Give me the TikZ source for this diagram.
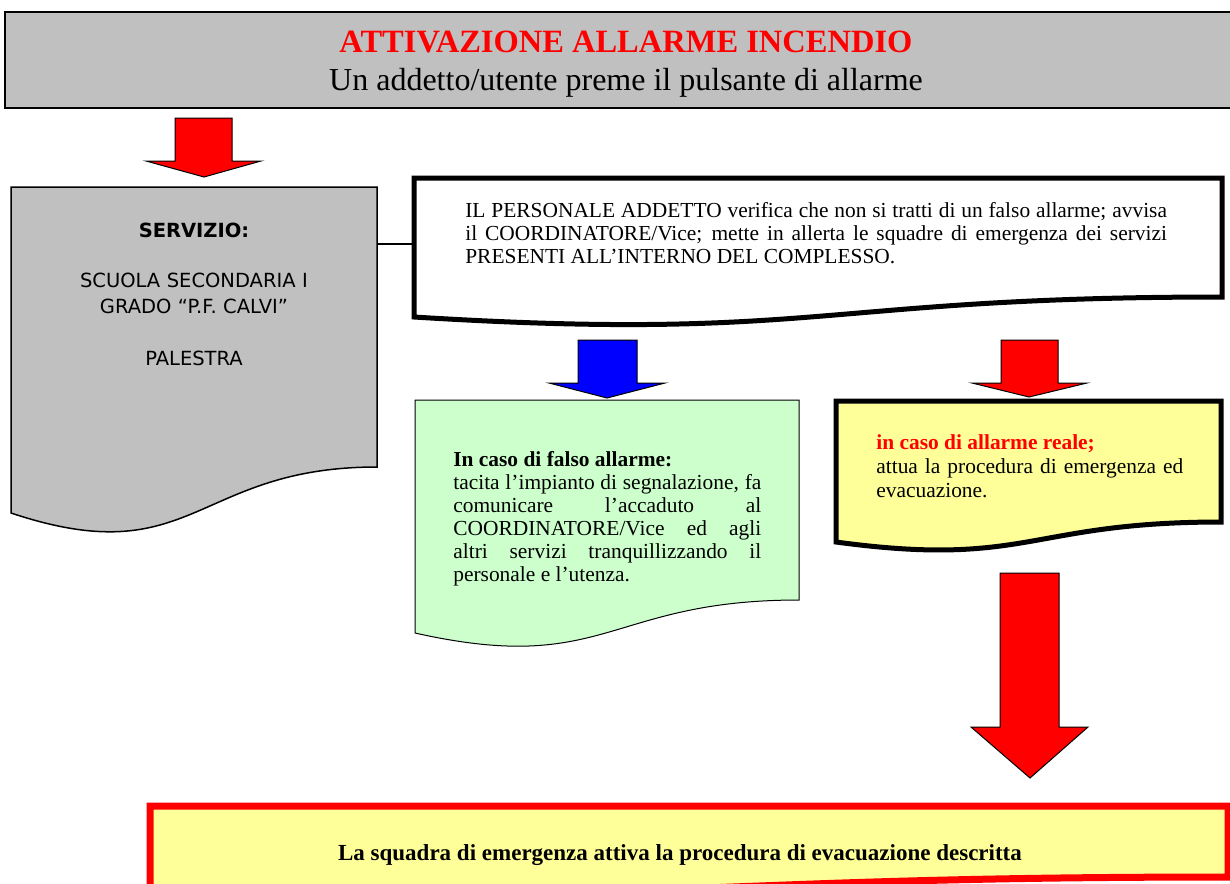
\documentclass[tikz,border=0pt]{standalone}
\usepackage{fontspec}
\setmainfont{Liberation Serif}
\newfontfamily\servfont{DejaVu Sans}
\usepackage{xcolor}
\definecolor{boxgray}{RGB}{192,192,192}
\definecolor{falsogreen}{RGB}{204,255,204}
\definecolor{realeyellow}{RGB}{255,255,153}

\tikzset{
  arrowred/.style={fill=red, draw=black, line width=0.6pt},
  arrowblue/.style={fill=blue, draw=black, line width=0.6pt},
  bodytext/.style={inner sep=0pt, anchor=base west, align=justify, font=\fontsize{12.85}{13.8}\selectfont},
}

\begin{document}
\begin{tikzpicture}[x=0.6pt, y=-0.6pt]
\useasboundingbox (0,0) rectangle (1230,883);
\clip (0,0) rectangle (1230,883);

% banner
\draw[fill=boxgray, line width=1.2pt] (5,12) rectangle (1240,108);
\node[anchor=base, text=red, font=\fontsize{19.5}{21}\selectfont\bfseries] (title) at (626,52) {ATTIVAZIONE ALLARME INCENDIO};
\node[anchor=base, font=\fontsize{19.2}{21}\selectfont] (subtitle) at (626,90) {Un addetto/utente preme il pulsante di allarme};

\draw[arrowred] (175,118) -- (232,118) -- (232,161) -- (261,161) -- (204,177) -- (146,161) -- (175,161) -- cycle;

% servizio
\draw[fill=boxgray, line width=0.9pt] (11,187) -- (377,187) -- (377,467) .. controls (194,467) and (194,574) .. (11,513) -- cycle;
\node[inner sep=0pt, anchor=base, text width=219pt, align=center, font=\servfont\fontsize{11.7}{15.6}\selectfont] (servizio) at (194,237)
  {\textbf{SERVIZIO:}\\[14.4pt] SCUOLA SECONDARIA I\\ GRADO “P.F. CALVI”\\[15.6pt] PALESTRA};

% personale addetto
\draw[fill=white, line width=3pt] (414,178) -- (1222,178) -- (1222,297) .. controls (818,297) and (818,342) .. (414,317) -- cycle;
\node[bodytext, text width=421pt] (personale) at (465,217)
  {IL PERSONALE ADDETTO verifica che non si tratti di un falso allarme; avvisa\linebreak il COORDINATORE/Vice; mette in allerta le squadre di emergenza dei servizi\linebreak PRESENTI ALL’INTERNO DEL COMPLESSO.};
\coordinate (servR) at (377,244);
\coordinate (persL) at (414,244);
\draw[line width=0.9pt] (servR) -- (persL);

\draw[arrowblue] (578,340) -- (637,340) -- (637,383) -- (665,383) -- (607,398) -- (549,383) -- (578,383) -- cycle;
\draw[arrowred] (1001,340) -- (1058,340) -- (1058,383) -- (1087,383) -- (1029,397) -- (972,383) -- (1001,383) -- cycle;

% falso allarme
\draw[fill=falsogreen, line width=0.6pt] (415,400) -- (799,400) -- (799,600) .. controls (607,600) and (607,676) .. (415,633) -- cycle;
\node[bodytext, text width=184.8pt] (falso) at (453,466)
  {\textbf{In caso di falso allarme:}\\ tacita l’impianto di segnalazione, fa\linebreak comunicare l’accaduto al\linebreak COORDINATORE/Vice ed agli\linebreak altri servizi tranquillizzando il\linebreak personale e l’utenza.};

% allarme reale
\draw[fill=realeyellow, line width=3pt] (836,401) -- (1221,401) -- (1221,522) .. controls (1028,522) and (1028,568) .. (836,542) -- cycle;
\node[bodytext, text width=184.2pt, font=\fontsize{12.85}{14.4}\selectfont] (reale) at (876,449)
  {\textcolor{red}{\textbf{in caso di allarme reale;}}\\ attua la procedura di emergenza ed\linebreak evacuazione.};

\draw[arrowred] (1000,573) -- (1059,573) -- (1059,727) -- (1088,727) -- (1030,778) -- (971,727) -- (1000,727) -- cycle;

% squadra
\draw[fill=realeyellow, draw=red, line width=4.2pt] (150,806) -- (1228,806) -- (1228,877) .. controls (689,877) and (689,904) .. (150,889) -- cycle;
\node[anchor=base, font=\fontsize{13.8}{15}\selectfont\bfseries] (squadra) at (680,860) {La squadra di emergenza attiva la procedura di evacuazione descritta};
\end{tikzpicture}
\end{document}
